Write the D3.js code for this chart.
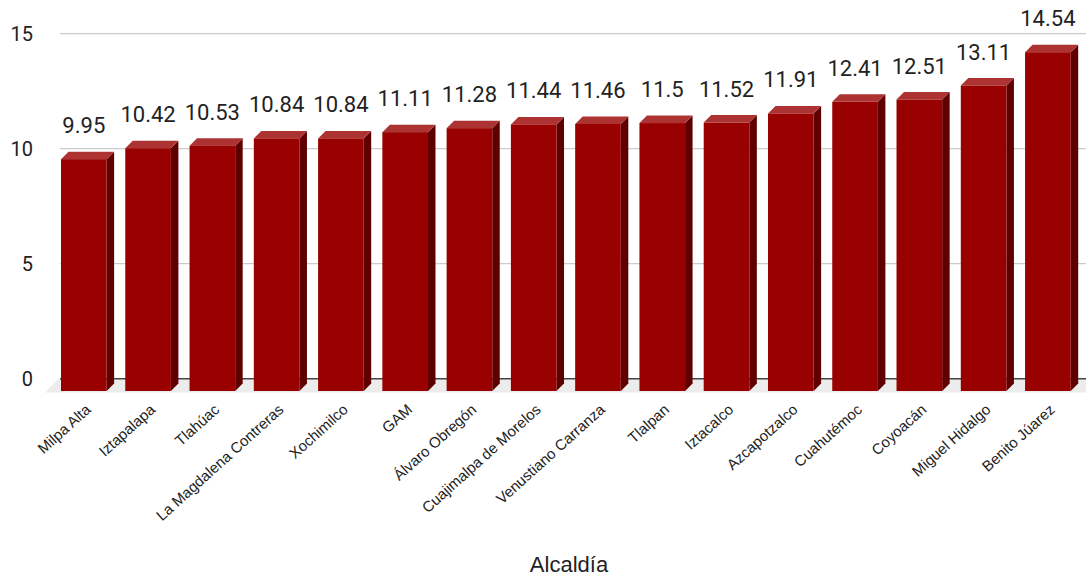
<!DOCTYPE html>
<html>
<head>
<meta charset="utf-8">
<script src="https://cdn.jsdelivr.net/npm/d3@7"></script>
<style>
	body { margin: 0; background: #ffffff; }
	svg { display: block; }
	.tick-text { font-family: Roboto, sans-serif; font-size: 20px; fill: #222222; }
	.value-text { font-family: Roboto, sans-serif; font-size: 22px; fill: #222222; }
	.cat-text { font-family: "Liberation Sans", Arial, sans-serif; font-size: 15px; fill: #222222; }
	.axis-title { font-family: "Liberation Sans", Arial, sans-serif; font-size: 22px; fill: #222222; }
</style>
</head>
<body>
<svg id="chart" width="1086" height="578"></svg>
<script>
var categories = ["Milpa Alta", "Iztapalapa", "Tlahúac", "La Magdalena Contreras", "Xochimilco", "GAM",
	"Álvaro Obregón", "Cuajimalpa de Morelos", "Venustiano Carranza", "Tlalpan", "Iztacalco",
	"Azcapotzalco", "Cuahutémoc", "Coyoacán", "Miguel Hidalgo", "Benito Júarez"];
var values = [9.95, 10.42, 10.53, 10.84, 10.84, 11.11, 11.28, 11.44, 11.46, 11.5, 11.52, 11.91, 12.41, 12.51, 13.11, 14.54];
var valueLabels = ["9.95", "10.42", "10.53", "10.84", "10.84", "11.11", "11.28", "11.44", "11.46", "11.5", "11.52", "11.91", "12.41", "12.51", "13.11", "14.54"];
var yTicks = [0, 5, 10, 15];
var xTitle = "Alcaldía";

var svg = d3.select("#chart");
var depthX = 7.5, depthY = 7.5;

// front plane of the bars
var xScale = d3.scaleBand()
	.domain(categories)
	.range([61, 1070.7])
	.paddingInner(0.29)
	.paddingOuter(0);
var yScale = d3.scaleLinear().domain([0, 15]).range([391, 391 - 15 * 23.3]);
// back wall for the grid
var yGrid = d3.scaleLinear().domain([0, 15]).range([378.7, 33.7]);

// floor
svg.append("polygon")
	.attr("points", [[58, 379], [1086, 379], [1086, 392.5], [45, 392.5]].map(function(p){ return p.join(","); }).join(" "))
	.attr("fill", "#ececec");

// grid lines
svg.append("g").selectAll("line")
	.data(yTicks).enter()
	.append("line")
	.attr("x1", 60)
	.attr("x2", 1086)
	.attr("y1", function(d){ return yGrid(d); })
	.attr("y2", function(d){ return yGrid(d); })
	.attr("stroke", function(d){ return d === 0 ? "#444444" : "#cccccc"; })
	.attr("stroke-width", function(d){ return d === 0 ? 1.5 : 1.2; });

svg.append("g").selectAll("text")
	.data(yTicks).enter()
	.append("text")
	.attr("class", "tick-text")
	.attr("x", 33)
	.attr("y", function(d){ return yGrid(d) + 7.5; })
	.attr("text-anchor", "end")
	.text(function(d){ return d; });

// bars
var barGroup = svg.append("g").selectAll("g")
	.data(categories).enter()
	.append("g");

barGroup.append("polygon")
	.attr("fill", "#5e0000")
	.attr("points", function(name, i)
	{
		var x1 = xScale(name) + xScale.bandwidth();
		var yt = yScale(values[i]);
		var yb = yScale(0);
		return [[x1, yt], [x1 + depthX, yt - depthY], [x1 + depthX, yb - depthY], [x1, yb]].join(" ");
	});

barGroup.append("polygon")
	.attr("fill", "#ad3333")
	.attr("points", function(name, i)
	{
		var x0 = xScale(name);
		var x1 = x0 + xScale.bandwidth();
		var yt = yScale(values[i]);
		return [[x0, yt], [x1, yt], [x1 + depthX, yt - depthY], [x0 + depthX, yt - depthY]].join(" ");
	});

barGroup.append("rect")
	.attr("fill", "#990000")
	.attr("x", function(name){ return xScale(name); })
	.attr("y", function(name, i){ return yScale(values[i]); })
	.attr("width", xScale.bandwidth())
	.attr("height", function(name, i){ return yScale(0) - yScale(values[i]); });

barGroup.append("text")
	.attr("class", "value-text")
	.attr("text-anchor", "middle")
	.attr("x", function(name){ return xScale(name) + xScale.bandwidth() / 2; })
	.attr("y", function(name, i){ return yScale(values[i]) - 26; })
	.text(function(name, i){ return valueLabels[i]; });

// category labels
svg.append("g").selectAll("text")
	.data(categories).enter()
	.append("text")
	.attr("class", "cat-text")
	.attr("text-anchor", "end")
	.attr("transform", function(name)
	{
		var x = xScale(name) + xScale.bandwidth() / 2 + 8;
		return "translate(" + x + ",411) rotate(-42)";
	})
	.text(function(name){ return name; });

svg.append("text")
	.attr("class", "axis-title")
	.attr("x", 569)
	.attr("y", 572)
	.attr("text-anchor", "middle")
	.text(xTitle);
</script>
</body>
</html>
